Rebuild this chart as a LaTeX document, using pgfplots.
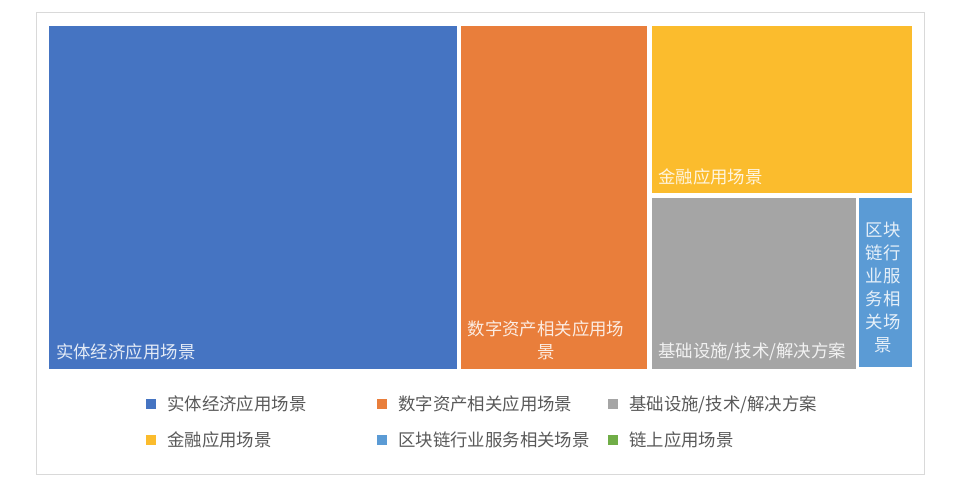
\documentclass[border=0pt]{standalone}
\usepackage{pgfplots}
\pgfplotsset{compat=1.18}
\usepackage{fontspec}
\setmainfont{Noto Sans CJK SC}

\definecolor{cA}{HTML}{4574C2}
\definecolor{cB}{HTML}{E97E3B}
\definecolor{cC}{HTML}{A5A5A5}
\definecolor{cD}{HTML}{FBBC2D}
\definecolor{cE}{HTML}{5B9BD5}
\definecolor{cF}{HTML}{70AD47}
\definecolor{legtext}{HTML}{595959}
\definecolor{frame}{HTML}{D9D9D9}

\tikzset{lbl/.style={font=\fontsize{17.4bp}{23bp}\selectfont, text=white, text opacity=0.85, inner sep=0pt}}

\begin{document}
\begin{tikzpicture}
\begin{axis}[
  scale only axis, width=960bp, height=497bp,
  xmin=0, xmax=960, ymin=0, ymax=497, y dir=reverse,
  hide axis, clip=false,
  legend columns=3,
  legend cell align=left,
  legend image code/.code={\path[#1] (0bp,-5bp) rectangle (10bp,5bp);},
  legend style={draw=none, fill=none, inner sep=0pt, column sep=11bp, row sep=19bp,
    nodes={inner sep=0pt, font=\fontsize{17.4bp}{20bp}\selectfont, text=legtext},
    at={(axis cs:146,396)}, anchor=north west},
]
% page size and outer frame
\addplot[draw=none, forget plot] coordinates {(0,0) (960,497)};
\addplot[draw=frame, line width=1bp, forget plot] coordinates {(36,13) (924,13) (924,474) (36,474)} -- cycle;

% treemap tiles
\addplot[fill=cA, draw=none, forget plot] coordinates {(49,26) (457,26) (457,369) (49,369)} -- cycle;
\addplot[fill=cB, draw=none, forget plot] coordinates {(461,26) (647,26) (647,369) (461,369)} -- cycle;
\addplot[fill=cD, draw=none, forget plot] coordinates {(652,26) (912,26) (912,193) (652,193)} -- cycle;
\addplot[fill=cC, draw=none, forget plot] coordinates {(652,198) (856,198) (856,369) (652,369)} -- cycle;
\addplot[fill=cE, draw=none, forget plot] coordinates {(859,198) (912,198) (912,367) (859,367)} -- cycle;

% tile labels
\node[lbl, anchor=west] at (axis cs:56,352) {实体经济应用场景};
\node[lbl, align=center] at (axis cs:546,340.5) {数字资产相关应用场\\景};
\node[lbl, anchor=west] at (axis cs:658,177) {金融应用场景};
\node[lbl, anchor=west] at (axis cs:658,352) {基础设施/技术/解决方案};
\node[lbl, align=center] at (axis cs:883,287.5) {区块\\链行\\业服\\务相\\关场\\景};

% legend
\addlegendimage{fill=cA, draw=none}
\addlegendentry{\makebox[199bp][l]{实体经济应用场景}}
\addlegendimage{fill=cB, draw=none}
\addlegendentry{\makebox[199bp][l]{数字资产相关应用场景}}
\addlegendimage{fill=cC, draw=none}
\addlegendentry{\makebox[199bp][l]{基础设施/技术/解决方案}}
\addlegendimage{fill=cD, draw=none}
\addlegendentry{\makebox[199bp][l]{金融应用场景}}
\addlegendimage{fill=cE, draw=none}
\addlegendentry{\makebox[199bp][l]{区块链行业服务相关场景}}
\addlegendimage{fill=cF, draw=none}
\addlegendentry{\makebox[199bp][l]{链上应用场景}}
\end{axis}
\end{tikzpicture}
\end{document}
